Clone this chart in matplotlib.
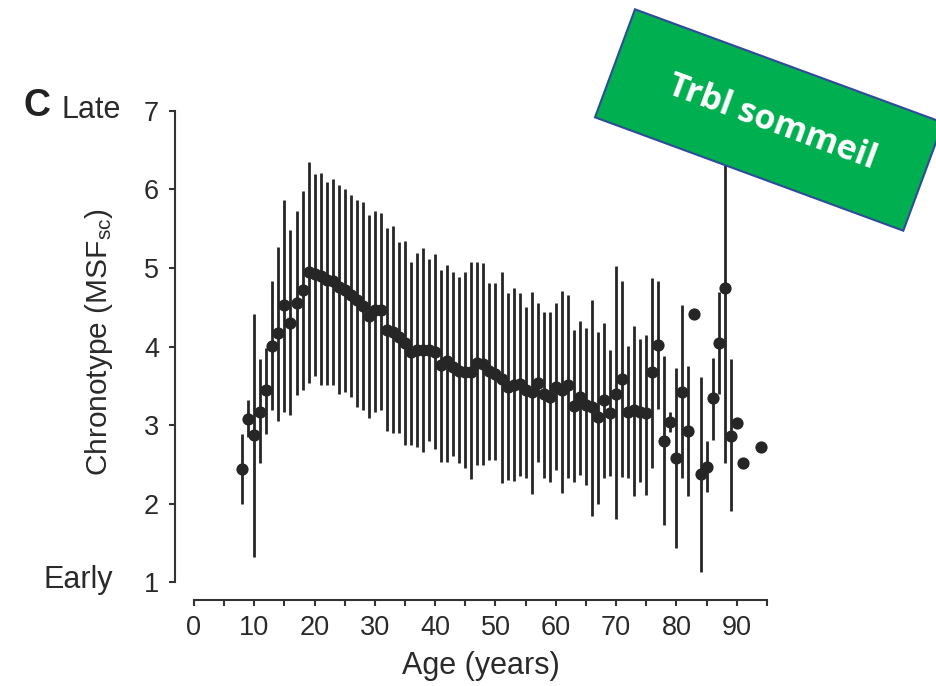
import numpy as np
import matplotlib
matplotlib.use('Agg')
import matplotlib.pyplot as plt
from matplotlib.patches import Polygon

W, H = 937, 686

# age (years)
ages = list(range(8, 92)) + [94]

# mean chronotype (MSFsc)
chrono = [2.44, 3.08, 2.87, 3.17, 3.45, 4.01, 4.17, 4.53, 4.30, 4.56,
          4.72, 4.95, 4.92, 4.90, 4.85, 4.83, 4.76, 4.72, 4.66, 4.59,
          4.52, 4.39, 4.46, 4.46, 4.21, 4.19, 4.12, 4.04, 3.93, 3.96,
          3.96, 3.96, 3.93, 3.77, 3.81, 3.74, 3.69, 3.68, 3.68, 3.79,
          3.78, 3.69, 3.65, 3.58, 3.49, 3.51, 3.52, 3.45, 3.42, 3.54,
          3.40, 3.36, 3.49, 3.45, 3.51, 3.24, 3.36, 3.25, 3.23, 3.10,
          3.32, 3.15, 3.40, 3.59, 3.16, 3.19, 3.17, 3.15, 3.67, 4.02,
          2.80, 3.04, 2.58, 3.42, 2.93, 4.41, 2.38, 2.46, 3.34, 4.04,
          4.74, 2.86, 3.03, 2.52, 2.72]

# lower / upper ends of the bars (nan = no bar)
low = [1.99, 2.85, 1.32, 2.51, 2.885, 3.19, 3.05, 3.16, 3.13, 3.38,
       3.45, 3.53, 3.62, 3.51, 3.51, 3.51, 3.40, 3.42, 3.36, 3.23,
       3.19, 3.09, 3.17, 3.19, 2.93, 2.90, 2.90, 2.75, 2.75, 2.72,
       2.66, 2.79, 2.70, 2.53, 2.53, 2.60, 2.52, 2.45, 2.31, 2.49,
       2.49, 2.56, 2.56, 2.26, 2.30, 2.29, 2.35, 2.32, 2.12, 2.53,
       2.32, 2.28, 2.43, 2.14, 2.33, 2.27, 2.36, 2.24, 1.84, 1.99,
       2.33, 2.35, 1.80, 2.34, 2.33, 2.10, 2.28, 2.11, 2.45, 3.21,
       1.73, 2.91, 1.43, 2.32, 2.09, np.nan, 1.13, 2.15, 2.81, 3.40,
       2.51, 1.90, np.nan, np.nan, np.nan]
high = [2.885, 3.32, 4.42, 3.84, 3.98, 4.83, 5.27, 5.87, 5.49, 5.73,
        5.98, 6.35, 6.20, 6.21, 6.09, 6.14, 6.06, 6.00, 5.93, 5.87,
        5.84, 5.67, 5.73, 5.70, 5.51, 5.54, 5.33, 5.34, 5.08, 5.19,
        5.25, 5.11, 5.18, 4.97, 5.04, 4.95, 4.89, 4.95, 5.08, 5.08,
        5.06, 4.81, 4.81, 4.95, 4.68, 4.74, 4.68, 4.50, 4.69, 4.56,
        4.44, 4.44, 4.55, 4.71, 4.65, 4.21, 4.33, 4.24, 4.59, 4.19,
        4.30, 3.96, 5.02, 4.84, 4.01, 4.26, 4.09, 4.15, 4.87, 4.83,
        3.88, 3.17, 3.72, 4.53, 3.75, np.nan, 3.61, 2.79, 3.85, 4.69,
        6.60, 3.84, np.nan, np.nan, np.nan]

plt.rcParams['font.family'] = ['Liberation Sans', 'DejaVu Sans']
plt.rcParams['mathtext.fontset'] = 'custom'
plt.rcParams['mathtext.rm'] = 'Liberation Sans'
plt.rcParams['mathtext.it'] = 'Liberation Sans:italic'

ink = '#262626'


def fx(x):
    return x / W


def fy(y):
    return 1 - y / H


fig = plt.figure(figsize=(W / 100, H / 100), dpi=100)
ax = fig.add_axes([fx(175), fy(600), (780 - 175) / W, 500 / H])

a = np.array(ages, dtype=float)
lo = np.array(low)
hi = np.array(high)
m = ~np.isnan(lo)

ax.vlines(a[m], lo[m], hi[m], color=ink, lw=2.0, zorder=2)
ax.plot(a, chrono, 'o', ms=8.8, color=ink, mec='none', zorder=3)

ax.set_xlim(-3.15, 97.18)
ax.set_ylim(0.771, 7.14)

for s in ['top', 'right']:
    ax.spines[s].set_visible(False)
ax.spines['left'].set_bounds(1, 7)
ax.spines['bottom'].set_bounds(0, 95)
for s in ['left', 'bottom']:
    ax.spines[s].set_linewidth(1.5)
    ax.spines[s].set_color('#333333')

ax.set_xticks(range(0, 100, 10))
ax.set_xticks(range(5, 100, 10), minor=True)
ax.set_yticks(range(1, 8))
ax.tick_params(axis='both', which='both', direction='out', length=4.5,
               width=1.5, color='#333333', labelsize=19.5, labelcolor='#2a2a2a')
ax.tick_params(axis='x', pad=6)
ax.tick_params(axis='y', pad=7)

# texte
fig.text(fx(24), fy(106), 'C', fontsize=27, fontweight='bold', va='center', ha='left', color='#222222')
fig.text(fx(62), fy(110), 'Late', fontsize=22, va='center', ha='left', color='#2a2a2a')
fig.text(fx(44), fy(580), 'Early', fontsize=22, va='center', ha='left', color='#2a2a2a')
fig.text(fx(99), fy(342), 'Chronotype (MSF$_{\\mathrm{sc}}$)', fontsize=21.5, rotation=90,
         va='center', ha='center', color='#2a2a2a')
fig.text(fx(481), fy(666), 'Age (years)', fontsize=22, va='center', ha='center', color='#2a2a2a')

# boite verte
corners = [(635, 9.3), (943.3, 122.7), (903.3, 230.7), (595, 117.3)]
box = Polygon([(fx(x), fy(y)) for x, y in corners], closed=True,
              facecolor='#00B050', edgecolor='#2F4B9A', lw=1.5,
              transform=fig.transFigure, zorder=10)
fig.add_artist(box)
fig.text(fx(772), fy(122), 'Trbl sommeil', rotation=-20.2, rotation_mode='anchor',
         ha='center', va='center', color='white', fontsize=24.5, fontweight='bold',
         family=['Open Sans', 'DejaVu Sans'], zorder=11)

fig.savefig('out.png', dpi=100)
